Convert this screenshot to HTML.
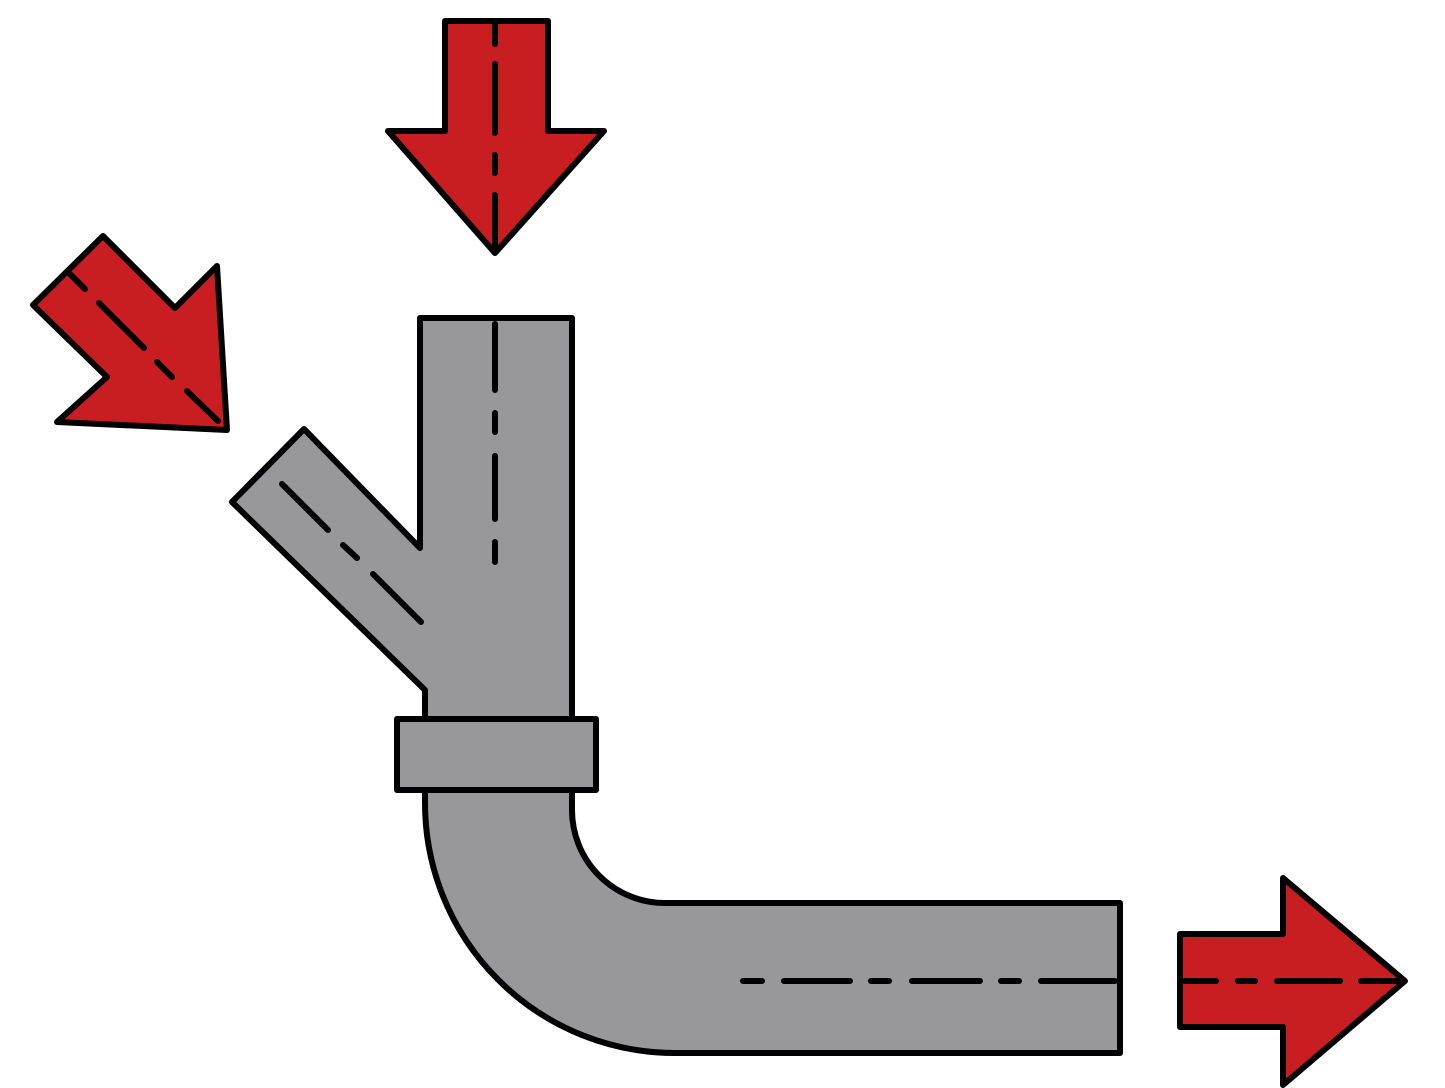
<!DOCTYPE html>
<html><head><meta charset="utf-8"><style>html,body{margin:0;padding:0;background:#fff;}svg{display:block}</style></head>
<body>
<svg width="1445" height="1088" viewBox="0 0 1445 1088" xmlns="http://www.w3.org/2000/svg">
<g stroke="#000" stroke-width="6" stroke-linejoin="round" stroke-linecap="round">
<!-- top arrow -->
<polygon points="445,21 548,21 548,131 604,131 495,253 388,131 445,131" fill="#c81e22"/>
<!-- diagonal arrow -->
<polygon points="103,236 175,308 217,266 227,430 57,422 107,377 33,305" fill="#c81e22"/>
<!-- right arrow -->
<polygon points="1180,934 1283,934 1283,878 1405,981 1283,1085 1283,1027 1180,1027" fill="#c81e22"/>
<!-- pipe body -->
<polygon points="420,318 572,318 572,720 425,720 425,690 232,502 304,429 420,548" fill="#98989a"/>
<path d="M425,790 L425,803 A250,250 0 0 0 675,1053 L1120,1053 L1120,903 L665,903 A93,93 0 0 1 572,810 L572,790 Z" fill="#98989a"/>
<rect x="397" y="719" width="199" height="71" fill="#98989a"/>
</g>
<g stroke="#000" stroke-width="6" stroke-linecap="round" fill="none">
<!-- top arrow dashes -->
<path d="M495,24V44 M495,64V133 M495,155V173 M495,195V245"/>
<!-- diagonal arrow dashes -->
<path d="M68,272L85,289 M99,303L144,348 M157,362L172,377 M187,391L218,421"/>
<!-- vertical pipe dashes -->
<path d="M495,324V390 M495,413V432 M495,456V519 M495,542V562"/>
<!-- branch dashes -->
<path d="M282,484L328,530 M343,545L357,558 M373,574L421,622"/>
<!-- horizontal pipe dashes -->
<path d="M743,981H762 M784,981H850 M871,981H889 M912,981H980 M1001,981H1019 M1041,981H1115"/>
<!-- right arrow dashes -->
<path d="M1185,981H1216 M1238,981H1255 M1277,981H1340 M1361,981H1400"/>
</g>
</svg>
</body></html>
